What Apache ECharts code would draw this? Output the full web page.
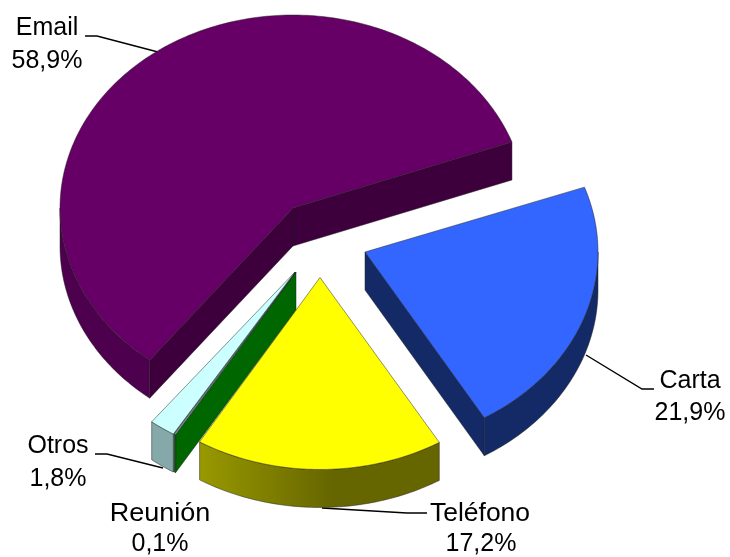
<!DOCTYPE html>
<html>
<head>
<meta charset="utf-8">
<title>Pie 3D</title>
<script src="https://cdn.jsdelivr.net/npm/echarts@6/dist/echarts.min.js"></script>
<style>
  html, body { margin: 0; padding: 0; background: #fff; }
  #chart { width: 730px; height: 557px; }
</style>
</head>
<body>
<div id="chart"></div>
<script>
// data
var categories = ['Email', 'Otros', 'Reunión', 'Teléfono', 'Carta'];
var shares = [58.9, 1.8, 0.1, 17.2, 21.9];

// look of every slice, same order as categories
var slices = [
  { cx: 293, cy: 208, ry: 193, top: '#660066', wall: '#3d003d', side: ['#4d004d', '#4d004d'] },
  { cx: 295, cy: 272, ry: 190, top: '#ccffff', wall: '#7fa5a5', side: ['#85a8a8', '#85a8a8'] },
  { cx: 296, cy: 272, ry: 190, top: '#8fa5a5', wall: '#006600', side: ['#006600', '#006600'] },
  { cx: 320, cy: 277.5, ry: 192, top: '#ffff00', wall: '#666600', side: ['#999900', '#666600'] },
  { cx: 365, cy: 252, ry: 193, top: '#3366ff', wall: '#142a66', side: ['#142a66', '#142a66'] }
];
var drawOrder = [0, 1, 2, 3, 4];
var rx = 233, depth = 38, firstAngle = 20;

// angles go counter clockwise from the first slice
var angles = [];
var sum = firstAngle;
shares.forEach(function (v) {
  angles.push([sum, sum + v * 3.6]);
  sum += v * 3.6;
});

function rimPoint(s, deg, dy) {
  var a = deg * Math.PI / 180;
  return [s.cx + rx * Math.cos(a), s.cy - s.ry * Math.sin(a) + dy];
}

function arcPoints(s, from, to, dy) {
  var pts = [];
  var n = Math.max(2, Math.ceil(Math.abs(to - from)));
  for (var i = 0; i <= n; i++) {
    pts.push(rimPoint(s, from + (to - from) * i / n, dy));
  }
  return pts;
}

var edge = { stroke: 'rgba(30,30,30,0.6)', lineWidth: 0.8 };

function poly(points, fill) {
  return {
    type: 'polygon',
    shape: { points: points },
    style: { fill: fill, stroke: edge.stroke, lineWidth: edge.lineWidth }
  };
}

function cutWall(s, deg, fill) {
  var r = rimPoint(s, deg, 0), rb = rimPoint(s, deg, depth);
  return poly([[s.cx, s.cy], r, rb, [s.cx, s.cy + depth]], fill);
}

function renderSlice(params, api) {
  var idx = api.value(0);
  var s = slices[idx];
  var a0 = angles[idx][0], a1 = angles[idx][1];
  var kids = [];

  // cut faces that look down at the viewer
  if (Math.cos(a0 * Math.PI / 180) > 0) kids.push(cutWall(s, a0, s.wall));
  if (Math.cos(a1 * Math.PI / 180) < 0) kids.push(cutWall(s, a1, s.wall));

  // outer wall, only the front half of the ellipse
  var from = Math.max(a0, 180), to = Math.min(a1, 360);
  if (to > from) {
    var rimTop = arcPoints(s, from, to, 0);
    var rimBottom = arcPoints(s, from, to, depth).reverse();
    kids.push(poly(rimTop.concat(rimBottom), new echarts.graphic.LinearGradient(0, 0, 1, 0, [
      { offset: 0, color: s.side[0] },
      { offset: 0.55, color: s.side[1] },
      { offset: 1, color: s.side[1] }
    ])));
  }

  // top face
  kids.push(poly([[s.cx, s.cy]].concat(arcPoints(s, a0, a1, 0)), s.top));
  return { type: 'group', children: kids };
}

function label(text, x, y, stretch) {
  return {
    type: 'text',
    x: x,
    y: y,
    scaleX: stretch || 1,
    silent: true,
    style: {
      text: text,
      fill: '#000',
      font: '25px "Liberation Sans", Arial, sans-serif',
      textAlign: 'center',
      textVerticalAlign: 'middle'
    }
  };
}

function leader(points) {
  return {
    type: 'polyline',
    silent: true,
    shape: { points: points },
    style: { stroke: '#000', lineWidth: 1.4, fill: null }
  };
}

function pct(i) {
  return shares[i].toFixed(1).replace('.', ',') + '%';
}

var chart = echarts.init(document.getElementById('chart'));

var option = {
  animation: false,
  backgroundColor: '#fff',
  series: [
    {
      type: 'custom',
      coordinateSystem: 'none',
      silent: true,
      renderItem: renderSlice,
      data: drawOrder.map(function (i) { return [i, shares[i]]; })
    }
  ],
  graphic: {
    elements: [
      leader([[85, 36], [97, 36], [158, 52]]),
      leader([[586, 355], [642, 389], [654, 389]]),
      leader([[322, 508], [407, 513], [427, 513]]),
      leader([[95, 454], [107, 454], [163, 468]]),
      label(categories[0], 47, 28.5), label(pct(0), 47, 61.5),
      label(categories[1], 58, 446.5), label(pct(1), 58, 479.5),
      label(categories[2], 160, 514.5, 1.08), label(pct(2), 160, 544.5),
      label(categories[3], 480, 514.5, 1.06), label(pct(3), 481, 544.5),
      label(categories[4], 690, 381.5), label(pct(4), 690, 413.5)
    ]
  }
};

chart.setOption(option);
</script>
</body>
</html>
